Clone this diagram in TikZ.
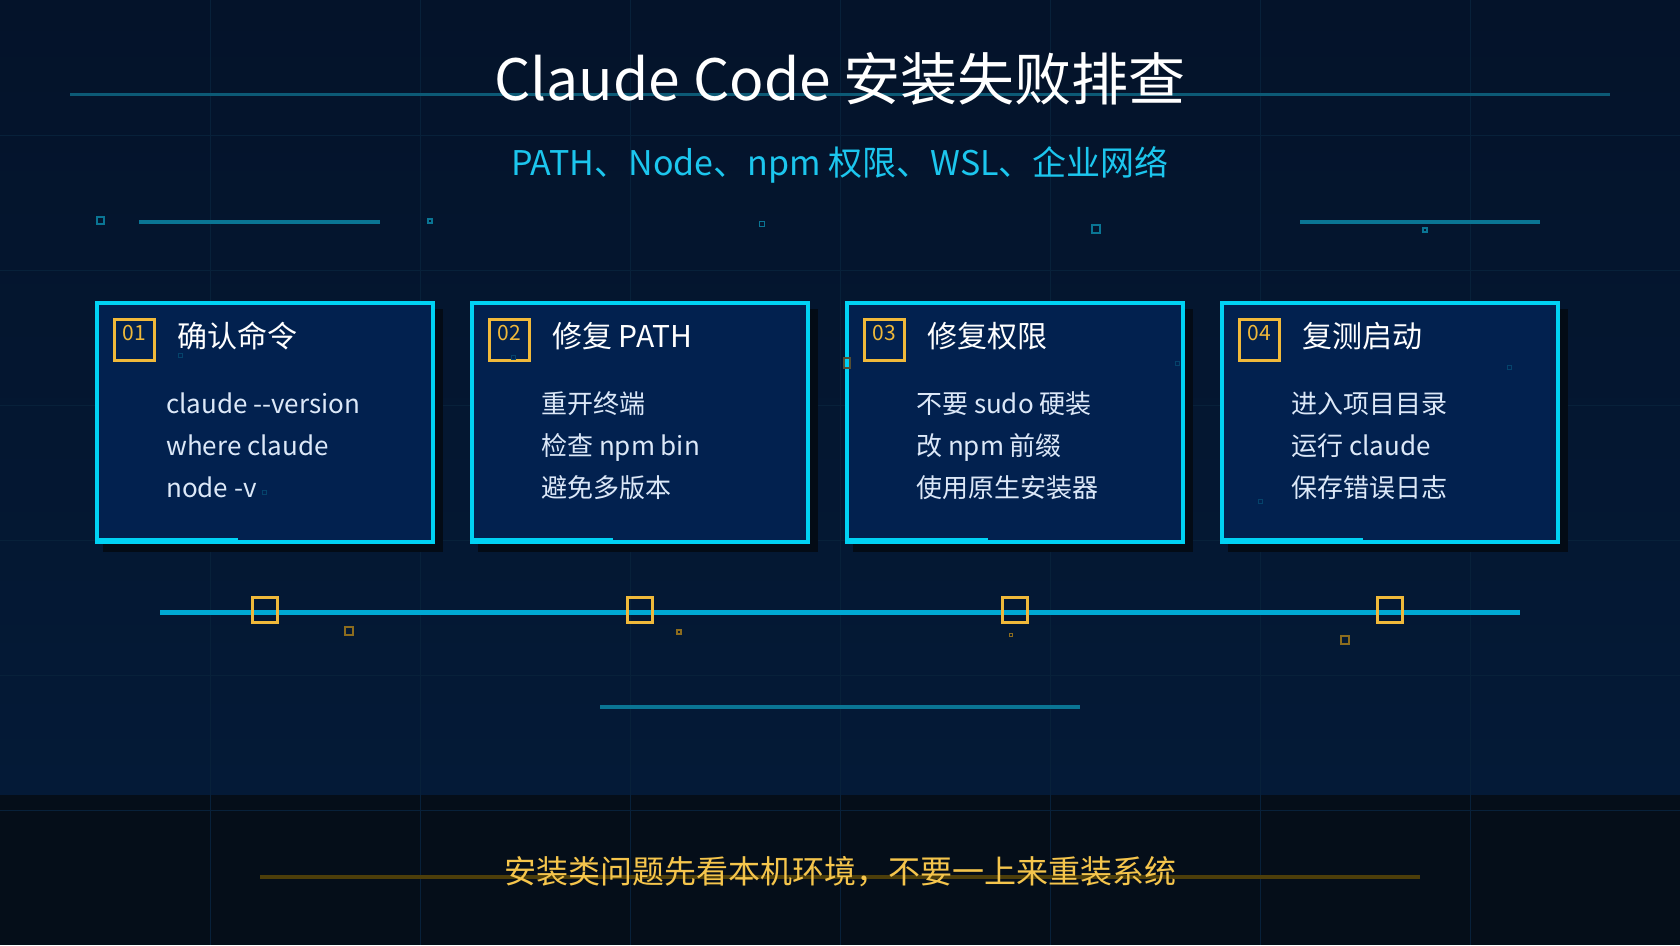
\documentclass[tikz,border=0pt]{standalone}
\usepackage{fontspec}
\newfontfamily\cjk{Noto Sans CJK SC}
\usetikzlibrary{positioning,calc}

\definecolor{bgtop}{HTML}{04132A}
\definecolor{bgbot}{HTML}{041A37}
\definecolor{bandc}{HTML}{050E19}
\definecolor{gridc}{HTML}{08213A}
\definecolor{decoc}{HTML}{0A7594}
\definecolor{titleline}{HTML}{0C5A76}
\definecolor{cardline}{HTML}{00D2F4}
\definecolor{cardfill}{HTML}{02214F}
\definecolor{shadowc}{HTML}{030B16}
\definecolor{gold}{HTML}{F0B93A}
\definecolor{golddim}{HTML}{8C6C1E}
\definecolor{footline}{HTML}{4D3E0A}
\definecolor{foottxt}{HTML}{F5C54C}
\definecolor{subc}{HTML}{1CC6EE}
\definecolor{bodyc}{HTML}{DCE8F8}
\definecolor{tlc}{HTML}{00A9D4}

\tikzset{
  card/.style={draw=cardline, line width=4pt, fill=cardfill, minimum width=336pt, minimum height=239pt, inner sep=0pt},
  numbox/.style={draw=gold, line width=3pt, minimum width=40pt, minimum height=41pt, inner sep=0pt},
  numtxt/.style={text=gold, font=\cjk\fontsize{21}{24}\selectfont, inner sep=0pt},
  cardtitle/.style={text=white, font=\cjk\fontsize{30}{33}\selectfont, inner sep=0pt},
  bodytxt/.style={text=bodyc, font=\cjk\fontsize{26}{29}\selectfont, inner sep=0pt},
  tlmark/.style={draw=gold, line width=3pt, minimum size=25pt, inner sep=0pt},
  decoline/.style={decoc, line width=4pt},
  decobox/.style={draw=decoc, line width=2pt, inner sep=0pt}
}

\begin{document}
\begin{tikzpicture}[x=1pt, y=-1pt]
    \useasboundingbox (0,0) rectangle (1680,945);
    % background, footer band and grid
    \shade[top color=bgtop, bottom color=bgbot] (0,0) rectangle (1680,795);
    \fill[bandc] (0,795) rectangle (1680,945);
    \foreach \gx in {210,420,...,1470} \draw[gridc, line width=1pt] (\gx,0) -- (\gx,945);
    \foreach \gy in {135,270,...,810} \draw[gridc, line width=1pt] (0,\gy) -- (1680,\gy);

    % heading
    \draw[titleline, line width=3pt] (70,94) -- (1610,94);
    \node[anchor=base, text=white, font=\cjk\fontsize{57}{61}\selectfont, inner sep=0pt] (title) at (840,100) {Claude Code 安装失败排查};
    \node[anchor=base, text=subc, font=\cjk\fontsize{34}{38}\selectfont, inner sep=0pt] (sub) at (840,175) {PATH、Node、npm 权限、WSL、企业网络};

    % decorative row
    \node[decobox, minimum size=7pt] (d1) at (100,220) {};
    \draw[decoline] (139,222) -- (380,222);
    \node[decobox, minimum size=4pt, line width=1.5pt] (d2) at (430,221) {};
    \node[decobox, minimum size=5pt, line width=1.5pt] (d3) at (762,224) {};
    \node[decobox, minimum size=8pt] (d4) at (1096,229) {};
    \draw[decoline] (1300,222) -- (1540,222);
    \node[decobox, minimum size=4pt, line width=1.5pt] (d5) at (1425,230) {};

    % cards
    \foreach \i/\ttl/\la/\lb/\lc in {1/确认命令/claude --version/where claude/node -v,
                                      2/修复 PATH/重开终端/检查 npm bin/避免多版本,
                                      3/修复权限/不要 sudo 硬装/改 npm 前缀/使用原生安装器,
                                      4/复测启动/进入项目目录/运行 claude/保存错误日志} {
        \fill[shadowc] ({95+375*(\i-1)+8},309) rectangle ++(340,243);
        \node[card] (c\i) at ({265+375*(\i-1)},422.5) {};
        \draw[cardline, line width=2.5pt] ([shift={(2,-4.5)}]c\i.south west) -- ++(141,0);
        \node[numbox, anchor=north west] (b\i) at ([shift={(18,17)}]c\i.north west) {};
        \node[numtxt, anchor=base] (n\i) at ([shift={(0,22)}]b\i.north) {0\i};
        \node[cardtitle, anchor=base west] (t\i) at ([shift={(82,46)}]c\i.north west) {\ttl};
        \node[bodytxt, anchor=base west] (la\i) at ([shift={(71,112)}]c\i.north west) {\la};
        \node[bodytxt, anchor=base west] (lb\i) at ([shift={(71,154)}]c\i.north west) {\lb};
        \node[bodytxt, anchor=base west] (lc\i) at ([shift={(71,196)}]c\i.north west) {\lc};
    }

    % faint specks
    \foreach \sx/\sy in {180/355, 264/492, 513/357, 1177/363, 1509/367, 1260/501}
        \draw[decoc!40!cardfill, line width=1pt] (\sx-2,\sy-2) rectangle (\sx+2,\sy+2);
    \draw[golddim!60!cardfill, line width=1.5pt] (844,358) rectangle (850,368);

    % timeline
    \coordinate (tl-a) at (160,612);
    \coordinate (tl-b) at (1520,612);
    \draw[tlc, line width=5pt] (tl-a) -- (tl-b);
    \foreach \i in {1,...,4}
        \node[tlmark] (m\i) at (c\i.south |- 0,610) {};
    \node[draw=golddim, line width=2pt, minimum size=8pt, inner sep=0pt] (g1) at (349,631) {};
    \node[draw=golddim, line width=1.5pt, minimum size=4pt, inner sep=0pt] (g2) at (679,632) {};
    \node[draw=golddim, line width=1.5pt, minimum size=3pt, inner sep=0pt] (g3) at (1011,635) {};
    \node[draw=golddim, line width=2pt, minimum size=8pt, inner sep=0pt] (g4) at (1345,640) {};
    \draw[decoc, line width=4pt] (600,707) -- (1080,707);

    % footer
    \draw[footline, line width=4pt] (260,877) -- (1420,877);
    \node[anchor=base, text=foottxt, font=\cjk\fontsize{32}{36}\selectfont, inner sep=0pt] (foot) at (840,883) {安装类问题先看本机环境，不要一上来重装系统};
\end{tikzpicture}
\end{document}
